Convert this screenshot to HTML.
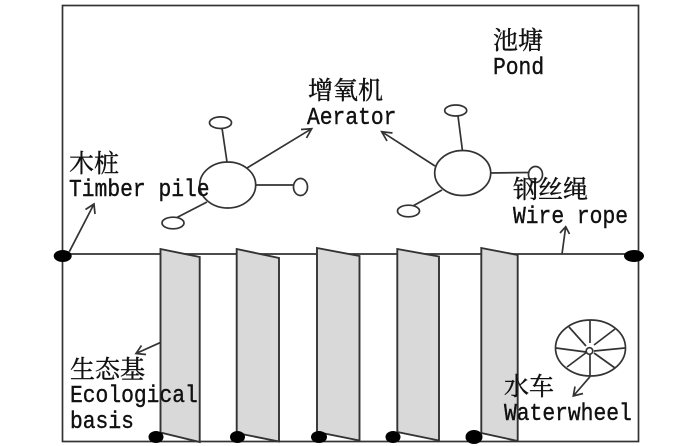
<!DOCTYPE html>
<html>
<head>
<meta charset="utf-8">
<style>
html,body{margin:0;padding:0;background:#fff;width:700px;height:446px;overflow:hidden}
svg{display:block}
.l{stroke:#333;stroke-width:1.7;fill:none}
.s{stroke:#333;stroke-width:1.7;fill:#fff}
.p{stroke:#333;stroke-width:1.9;fill:#d9d9d9}
.e{font-family:"Liberation Mono",monospace;font-size:21.3px;fill:#111;stroke:#111;stroke-width:.35}
.c{font-family:"Liberation Serif","Noto Serif CJK SC",serif;font-size:25px;fill:#111;stroke:#111;stroke-width:.4}
</style>
</head>
<body>
<svg width="700" height="446" viewBox="0 0 700 446" xmlns="http://www.w3.org/2000/svg">
<rect x="62.5" y="5.5" width="576" height="436" class="l"/>
<line x1="62" y1="254" x2="634" y2="254" class="l"/>

<polygon points="160.5,249 199.7,257 199.7,442 160.5,432.5" class="p"/>
<polygon points="236.7,249 279,258 279,441.5 236.7,433" class="p"/>
<polygon points="317,248 359.5,256 359.5,440.5 317,432" class="p"/>
<polygon points="397.3,249 439,256.5 439,440.5 397.3,432" class="p"/>
<polygon points="481.3,248 517.7,255 517.7,441 481.3,433" class="p"/>

<g fill="#000">
<ellipse cx="62.7" cy="256" rx="9" ry="6"/>
<ellipse cx="634" cy="256" rx="10" ry="6"/>
<ellipse cx="156" cy="437" rx="7.5" ry="6"/>
<ellipse cx="237.5" cy="437" rx="7.5" ry="6"/>
<ellipse cx="319" cy="437" rx="8" ry="6"/>
<ellipse cx="393" cy="437" rx="7.5" ry="6"/>
<ellipse cx="474" cy="437" rx="8.5" ry="7"/>
</g>

<!-- aerator 1 -->
<line x1="227" y1="162" x2="222" y2="128" class="l"/>
<line x1="255" y1="185" x2="294" y2="185" class="l"/>
<line x1="207" y1="202" x2="176" y2="218" class="l"/>
<ellipse cx="227.7" cy="185" rx="28" ry="23" class="s"/>
<ellipse cx="220.5" cy="122.7" rx="11" ry="5.8" class="s"/>
<ellipse cx="300.5" cy="187" rx="7" ry="8.5" class="s"/>
<ellipse cx="173" cy="223" rx="11" ry="5.8" class="s"/>

<!-- aerator 2 -->
<line x1="462.5" y1="151" x2="458" y2="116" class="l"/>
<line x1="490" y1="173" x2="529" y2="172.5" class="l"/>
<line x1="442" y1="190" x2="411" y2="207" class="l"/>
<ellipse cx="462.7" cy="173" rx="28" ry="22.5" class="s"/>
<ellipse cx="455.7" cy="110.5" rx="11" ry="5.5" class="s"/>
<ellipse cx="535.5" cy="174.5" rx="7" ry="8" class="s"/>
<ellipse cx="408.5" cy="211" rx="11" ry="5.8" class="s"/>

<!-- waterwheel -->
<ellipse cx="590.5" cy="348" rx="35" ry="28" class="l"/>
<g class="l">
<line x1="590" y1="320" x2="590" y2="343"/>
<line x1="615" y1="329" x2="594" y2="345"/>
<line x1="625" y1="348" x2="594" y2="351"/>
<line x1="615" y1="368" x2="594" y2="353"/>
<line x1="590" y1="376" x2="590" y2="352"/>
<line x1="567" y1="367" x2="587" y2="352"/>
<line x1="556" y1="348" x2="586" y2="352"/>
<line x1="569" y1="327" x2="586" y2="346"/>
</g>
<circle cx="589.5" cy="351" r="3.3" class="s"/>

<!-- arrows -->
<g class="l">
<path d="M69.3 251.7L94 204M85.5 209.5L94 204L95 214"/>
<path d="M247 168L311.7 128.7M301 129.5L311.7 128.7L306.5 138"/>
<path d="M435 166L381.7 131.7M387 141L381.7 131.7L392.5 133"/>
<path d="M562 254L565.7 226.7M560 233L565.7 226.7L569.5 234"/>
<path d="M160 342.7L136 353.5M141.5 345.5L136 353.5L146 354.5"/>
<path d="M590 376.7L573.3 396M575 386.5L573.3 396L583 393.5"/>
</g>

<!-- labels -->
<text x="493" y="49" class="c">池塘</text>
<text transform="translate(493,74) scale(1,1.12)" class="e">Pond</text>
<text x="308" y="99" class="c">增氧机</text>
<text transform="translate(307,124) scale(1,1.12)" class="e">Aerator</text>
<text x="69" y="172" class="c">木桩</text>
<text transform="translate(69,196) scale(1,1.12)" class="e">Timber pile</text>
<text x="513" y="198" class="c">钢丝绳</text>
<text transform="translate(513,223) scale(1,1.12)" class="e">Wire rope</text>
<text x="70" y="378" class="c">生态基</text>
<text transform="translate(70,402) scale(1,1.12)" class="e">Ecological</text>
<text transform="translate(70,428) scale(1,1.12)" class="e">basis</text>
<text x="504" y="395" class="c">水车</text>
<text transform="translate(504,420) scale(1,1.12)" class="e">Waterwheel</text>
</svg>
</body>
</html>
